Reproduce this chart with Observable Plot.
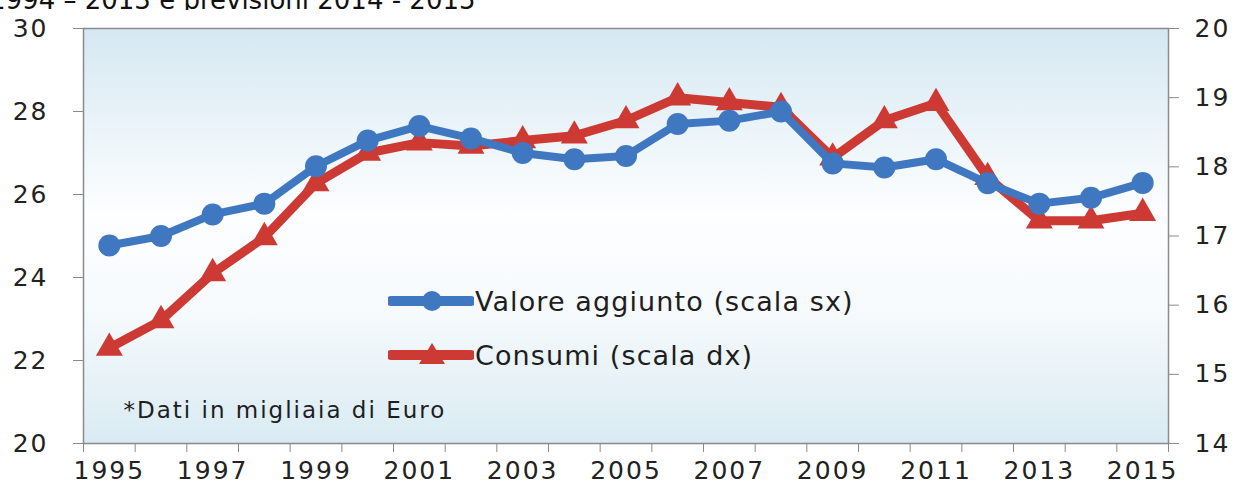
<!DOCTYPE html>
<html>
<head>
<meta charset="utf-8">
<script src="https://cdn.jsdelivr.net/npm/d3@7"></script>
<script src="https://cdn.jsdelivr.net/npm/@observablehq/plot@0.6"></script>
<style>
  body { margin:0; background:#fff; width:1248px; height:490px; overflow:hidden; position:relative; font-family:"DejaVu Sans", sans-serif; }
  #title { height:10px; overflow:hidden; position:relative; }
  #title span { position:absolute; left:-11px; top:-15px; font-size:26px; line-height:30px; white-space:nowrap; color:#111; }
  .leg { position:absolute; left:388px; height:30px; display:flex; align-items:center; font-size:27px; color:#1e1e1e; letter-spacing:1.1px; white-space:nowrap; }
  .leg svg { margin-right:1px; }
  #chart svg text { letter-spacing: 2px; }
</style>
</head>
<body>
<div id="title"><span>1994 – 2013 e previsioni 2014 - 2015</span></div>
<div id="chart"></div>
<div class="leg" style="top:286px"><svg width="86" height="30"><line x1="3" x2="83" y1="15" y2="15" stroke="#3f78c1" stroke-width="10" stroke-linecap="round"/><circle cx="44" cy="15" r="10" fill="#3f78c1"/></svg><span>Valore aggiunto (scala sx)</span></div>
<div class="leg" style="top:340px"><svg width="86" height="30"><line x1="3" x2="83" y1="15" y2="15" stroke="#cc3a33" stroke-width="10" stroke-linecap="round"/><path d="M44,3 L57,24 L31,24 Z" fill="#cc3a33"/></svg><span>Consumi (scala dx)</span></div>
<script>
const years = [1995,1996,1997,1998,1999,2000,2001,2002,2003,2004,2005,2006,2007,2008,2009,2010,2011,2012,2013,2014,2015];
const valoreAggiunto = [24.77,25.0,25.52,25.78,26.68,27.3,27.65,27.35,27.0,26.85,26.93,27.7,27.78,28.0,26.75,26.65,26.85,26.27,25.78,25.92,26.28];
const consumi = [15.38,15.78,16.46,16.98,17.76,18.2,18.35,18.3,18.38,18.45,18.67,19.0,18.93,18.86,18.13,18.67,18.92,17.85,17.22,17.22,17.33];
const leftTicks = [20,22,24,26,28,30];
const rightTicks = [14,15,16,17,18,19,20];
const xLabels = [1995,1997,1999,2001,2003,2005,2007,2009,2011,2013,2015];
const noteText = "*Dati in migliaia di Euro";

const blue = "#3f78c1", red = "#cc3a33";
const leftDomain = [20, 30], rightDomain = [14, 20];
const toLeft = v => leftDomain[0] + (v - rightDomain[0]) * (leftDomain[1] - leftDomain[0]) / (rightDomain[1] - rightDomain[0]);
const fromLeft = v => rightDomain[0] + (v - leftDomain[0]) * (rightDomain[1] - rightDomain[0]) / (leftDomain[1] - leftDomain[0]);

const rows = years.map((year, i) => ({year, va: valoreAggiunto[i], cons: toLeft(consumi[i])}));
const boundaries = d3.range(years[0] - 0.5, years[years.length - 1] + 1, 1);

const chart = Plot.plot({
  width: 1248,
  height: 480,
  marginTop: 18,
  marginBottom: 47,
  marginLeft: 83,
  marginRight: 80,
  style: {fontFamily: "DejaVu Sans, sans-serif", fontSize: "25px", color: "#222", background: "transparent"},
  x: {domain: [years[0] - 0.5, years[years.length - 1] + 0.5]},
  y: {domain: leftDomain},
  marks: [
    Plot.frame({fill: "url(#bgGrad)", stroke: "none"}),
    Plot.text([noteText], {frameAnchor: "bottom-left", dx: 40, dy: -33, lineAnchor: "middle", textAnchor: "start", fontSize: 23, fill: "#1e1e1e"}),
    Plot.line(rows, {x: "year", y: "cons", stroke: red, strokeWidth: 9, strokeLinejoin: "round"}),
    Plot.dot(rows, {x: "year", y: "cons", symbol: "triangle", r: 10, fill: red, stroke: "none"}),
    Plot.line(rows, {x: "year", y: "va", stroke: blue, strokeWidth: 8, strokeLinejoin: "round"}),
    Plot.dot(rows, {x: "year", y: "va", r: 11, fill: blue, stroke: "none"}),
    Plot.frame({stroke: "#8a8a8a", strokeWidth: 1.5}),
    Plot.axisY(leftTicks, {anchor: "left", tickSize: 10, tickPadding: 25, stroke: "#8a8a8a", fill: "#222", tickFormat: d => String(d), label: null}),
    Plot.axisY(rightTicks.map(toLeft), {anchor: "right", tickSize: 10, tickPadding: 16, stroke: "#8a8a8a", fill: "#222", tickFormat: d => String(Math.round(fromLeft(d))), label: null}),
    Plot.axisX(boundaries, {tickSize: 9, stroke: "#8a8a8a", tickFormat: () => "", label: null}),
    Plot.axisX(xLabels, {tickSize: 0, tickPadding: 18, fill: "#222", tickFormat: d => String(d), label: null})
  ]
});

const defs = d3.select(chart).insert("defs", ":first-child");
const g = defs.append("linearGradient").attr("id", "bgGrad").attr("x1", 0).attr("y1", 0).attr("x2", 0).attr("y2", 1);
[["0%", "#d5e8f2"], ["45%", "#fdfeff"], ["68%", "#f6fafc"], ["100%", "#d9ebf3"]].forEach(([o, c]) => g.append("stop").attr("offset", o).attr("stop-color", c));

document.getElementById("chart").appendChild(chart);
</script>
</body>
</html>
